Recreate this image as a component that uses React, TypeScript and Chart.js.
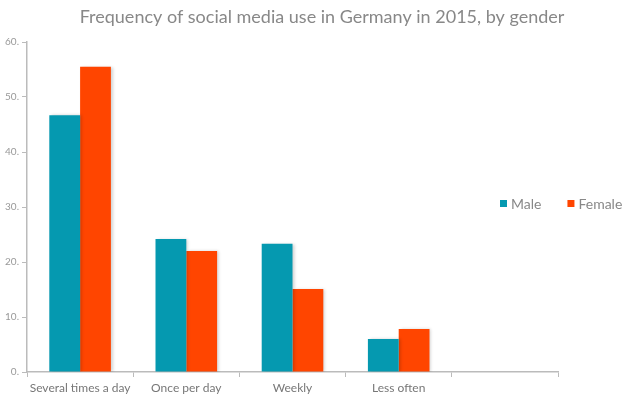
import React, { useEffect, useRef } from "react";
import { Chart, registerables } from "chart.js";

Chart.register(...registerables);

const TITLE = "Frequency of social media use in Germany in 2015, by gender";
const categories = ["Several times a day", "Once per day", "Weekly", "Less often", ""];
const maleValues = [46.7, 24.2, 23.3, 6.0, null];
const femaleValues = [55.5, 22.0, 15.1, 7.8, null];
const seriesNames = ["Male", "Female"];
const seriesColors = ["#0599b0", "#ff4500"];
const yTicksMax = 60;
const yStep = 10;

const FONT = "Lato, 'Open Sans', sans-serif";

const titlePlugin = {
  id: "customTitle",
  afterDraw(chart: any) {
    const ctx = chart.ctx;
    ctx.save();
    ctx.font = `18px ${FONT}`;
    ctx.fillStyle = "#888888";
    ctx.textAlign = "center";
    ctx.textBaseline = "middle";
    ctx.fillText(TITLE, chart.width / 2, 17);
    ctx.restore();
  },
};

const legendPlugin = {
  id: "customLegend",
  afterDraw(chart: any) {
    const ctx = chart.ctx;
    ctx.save();
    ctx.font = `14px ${FONT}`;
    ctx.textBaseline = "middle";
    ctx.textAlign = "left";
    const y = 204;
    let x = 500;
    chart.data.datasets.forEach((ds: any) => {
      ctx.fillStyle = ds.backgroundColor;
      ctx.fillRect(x, y - 4, 7, 7);
      ctx.fillStyle = "#888888";
      ctx.fillText(ds.label, x + 11, y);
      x += 11 + ctx.measureText(ds.label).width + 26;
    });
    ctx.restore();
  },
};

const shadowPlugin = {
  id: "barShadow",
  beforeDatasetsDraw(chart: any) {
    const ctx = chart.ctx;
    ctx.save();
    ctx.shadowColor = "rgba(0,0,0,0.18)";
    ctx.shadowBlur = 3;
    ctx.shadowOffsetX = 2;
    ctx.shadowOffsetY = 0;
  },
  afterDatasetsDraw(chart: any) {
    chart.ctx.restore();
  },
};

export default function App() {
  const ref = useRef<HTMLCanvasElement | null>(null);
  useEffect(() => {
    if (!ref.current) return;
    const chart = new Chart(ref.current, {
      type: "bar",
      data: {
        labels: categories,
        datasets: [
          { label: seriesNames[0], data: maleValues as any, backgroundColor: seriesColors[0], borderWidth: 0 },
          { label: seriesNames[1], data: femaleValues as any, backgroundColor: seriesColors[1], borderWidth: 0 },
        ],
      },
      options: {
        animation: false,
        responsive: false,
        maintainAspectRatio: false,
        layout: { padding: { top: 42, right: 86, left: 0, bottom: 0 } },
        datasets: { bar: { categoryPercentage: 0.58, barPercentage: 1 } },
        plugins: {
          legend: { display: false },
          title: { display: false },
          tooltip: { enabled: false },
        },
        scales: {
          x: {
            grid: { display: true, drawOnChartArea: false, drawTicks: true, tickLength: 5, color: "#bbbbbb", offset: true },
            border: { display: true, color: "#bbbbbb", width: 1.5 },
            ticks: { color: "#777777", font: { family: FONT, size: 12 }, padding: 4, maxRotation: 0, autoSkip: false },
            afterFit(scale: any) { scale.height = 28; },
          },
          y: {
            min: 0,
            max: yTicksMax,
            grid: { display: true, drawOnChartArea: false, drawTicks: true, tickLength: 5, color: "#bbbbbb" },
            border: { display: true, color: "#bbbbbb", width: 1.5 },
            ticks: {
              stepSize: yStep,
              color: "#999999",
              font: { family: FONT, size: 10 },
              padding: 3,
              callback: (v: any) => `${v}.`,
            },
            afterFit(scale: any) { scale.width = 27; },
          },
        },
      },
      plugins: [shadowPlugin, titlePlugin, legendPlugin],
    });
    return () => chart.destroy();
  }, []);
  return (
    <div style={{ position: "fixed", left: 0, top: 0, width: 644, height: 400, background: "#fff" }}>
      <canvas ref={ref} width={644} height={400} style={{ width: 644, height: 400 }} />
    </div>
  );
}
